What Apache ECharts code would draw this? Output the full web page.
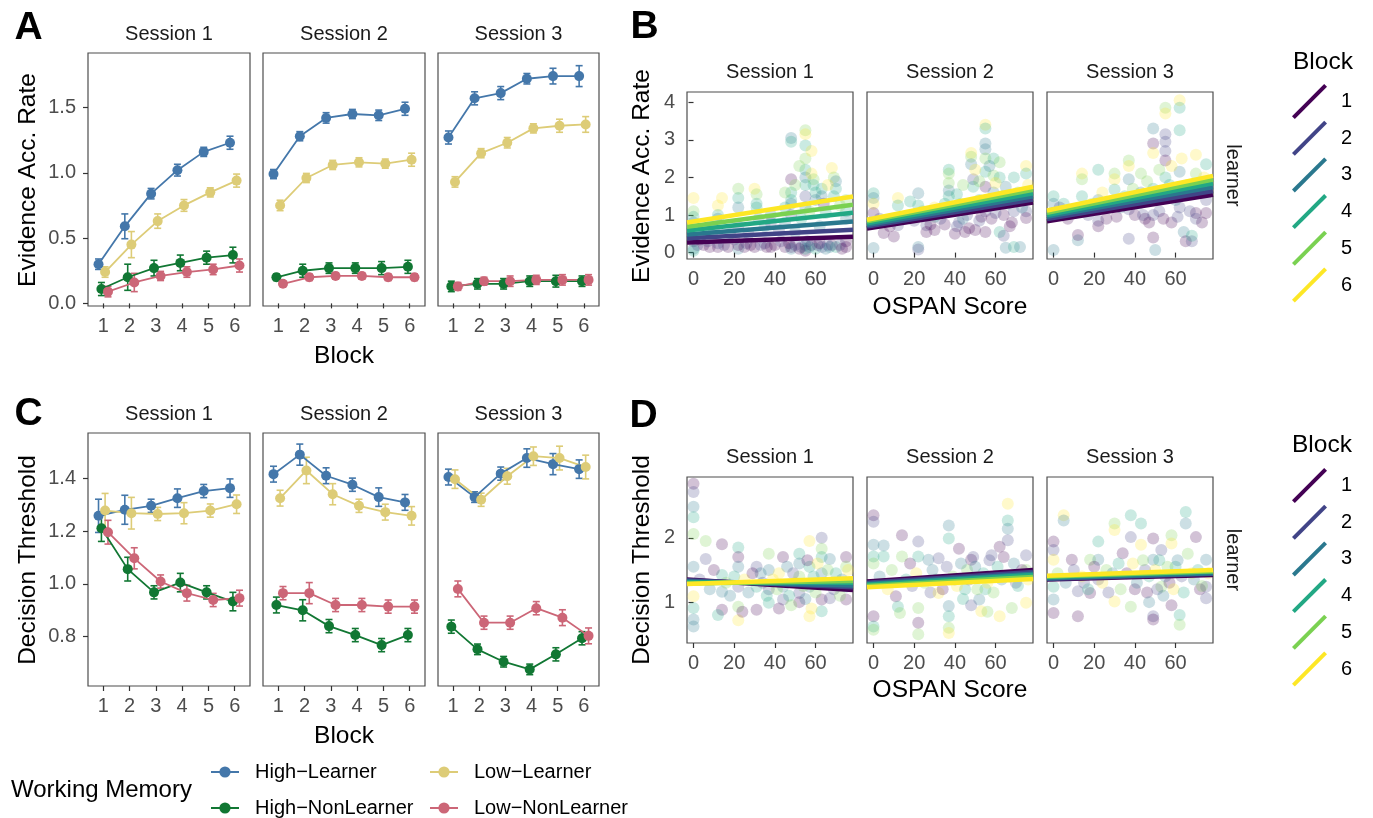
<!DOCTYPE html>
<html>
<head>
<meta charset="utf-8">
<script src="https://cdn.jsdelivr.net/npm/echarts@6/dist/echarts.min.js"></script>
<style>
  html, body { margin: 0; padding: 0; background: #fff; }
  #chart { width: 1373px; height: 818px; }
</style>
</head>
<body>
<div id="chart"></div>
<script>
// block / session labels
var blocks = [1, 2, 3, 4, 5, 6];
var sessions = ['Session 1', 'Session 2', 'Session 3'];
var groups = ['High\u2212Learner', 'High\u2212NonLearner', 'Low\u2212Learner', 'Low\u2212NonLearner'];

// panel A: evidence accumulation rate (mean per block, one row per session)
var rateHL = [[0.30, 0.59, 0.84, 1.02, 1.16, 1.23], [0.99, 1.28, 1.42, 1.45, 1.44, 1.49], [1.27, 1.57, 1.61, 1.72, 1.74, 1.74]];
var rateHN = [[0.11, 0.20, 0.27, 0.31, 0.35, 0.37], [0.20, 0.25, 0.27, 0.27, 0.27, 0.28], [0.13, 0.15, 0.15, 0.17, 0.17, 0.17]];
var rateLL = [[0.24, 0.45, 0.63, 0.75, 0.85, 0.94], [0.75, 0.96, 1.06, 1.08, 1.07, 1.10], [0.93, 1.15, 1.23, 1.34, 1.36, 1.37]];
var rateLN = [[0.09, 0.16, 0.21, 0.24, 0.26, 0.29], [0.15, 0.20, 0.21, 0.21, 0.20, 0.20], [0.13, 0.17, 0.17, 0.18, 0.18, 0.18]];
// panel A: standard errors
var rateErrHL = [[0.04, 0.095, 0.04, 0.045, 0.035, 0.05], [0.035, 0.035, 0.04, 0.035, 0.04, 0.05], [0.05, 0.05, 0.05, 0.04, 0.06, 0.08]];
var rateErrHN = [[0.05, 0.10, 0.06, 0.06, 0.05, 0.06], [0.025, 0.05, 0.04, 0.04, 0.05, 0.05], [0.04, 0.04, 0.04, 0.04, 0.045, 0.04]];
var rateErrLL = [[0.04, 0.10, 0.055, 0.045, 0.035, 0.05], [0.04, 0.035, 0.035, 0.035, 0.035, 0.05], [0.04, 0.035, 0.04, 0.035, 0.05, 0.06]];
var rateErrLN = [[0.04, 0.07, 0.035, 0.04, 0.04, 0.05], [0.02, 0.025, 0.025, 0.025, 0.025, 0.025], [0.03, 0.03, 0.04, 0.035, 0.04, 0.04]];

// panel C: decision threshold
var thrHL = [[1.258, 1.281, 1.296, 1.325, 1.352, 1.363], [1.416, 1.49, 1.41, 1.376, 1.329, 1.309], [1.405, 1.329, 1.418, 1.477, 1.454, 1.435]];
var thrHN = [[1.211, 1.056, 0.968, 1.005, 0.968, 0.933], [0.92, 0.90, 0.84, 0.806, 0.768, 0.806], [0.838, 0.752, 0.705, 0.676, 0.733, 0.794]];
var thrLL = [[1.278, 1.268, 1.265, 1.268, 1.278, 1.302], [1.325, 1.43, 1.34, 1.296, 1.272, 1.258], [1.397, 1.319, 1.408, 1.484, 1.477, 1.443]];
var thrLN = [[1.196, 1.097, 1.009, 0.965, 0.939, 0.946], [0.965, 0.965, 0.92, 0.92, 0.914, 0.914], [0.981, 0.853, 0.853, 0.908, 0.872, 0.803]];
var thrErrHL = [[0.063, 0.055, 0.025, 0.035, 0.025, 0.035], [0.03, 0.04, 0.03, 0.025, 0.035, 0.03], [0.03, 0.02, 0.025, 0.035, 0.04, 0.035]];
var thrErrHN = [[0.05, 0.045, 0.025, 0.035, 0.025, 0.035], [0.03, 0.04, 0.025, 0.025, 0.025, 0.025], [0.025, 0.02, 0.02, 0.02, 0.025, 0.025]];
var thrErrLL = [[0.065, 0.06, 0.025, 0.04, 0.025, 0.035], [0.03, 0.05, 0.04, 0.025, 0.03, 0.035], [0.035, 0.025, 0.03, 0.035, 0.045, 0.045]];
var thrErrLN = [[0.045, 0.04, 0.025, 0.03, 0.025, 0.03], [0.025, 0.04, 0.025, 0.025, 0.025, 0.025], [0.03, 0.025, 0.025, 0.025, 0.03, 0.03]];

// panel B: subject points [ospan, rate, block]
var bPts1 = [[0,1.45,6],[0,1.1,5],[0,0.95,4],[0,0.8,3],[0,0.3,1],[0,0.1,3],[0,0.05,4],[5,0.2,1],[8,0.15,1],
  [12,1.25,6],[14,1.45,6],[12,1.0,4],[12,0.9,3],[12,0.15,1],[12,0.25,2],[10,0.6,2],
  [22,1.7,5],[22,1.45,4],[22,1.2,3],[22,0.7,2],[22,0.1,3],[22,0.2,1],[25,0.15,1],
  [30,1.7,6],[31,1.55,5],[31,1.3,4],[31,1.2,4],[32,0.9,3],[30,0.15,1],[33,0.2,2],
  [38,1.0,3],[38,0.8,2],[38,0.15,1],[40,0.2,1],[42,0.6,2],[45,1.2,4],[45,0.8,3],[45,0.15,1],
  [48,3.05,3],[48,2.95,4],[48,1.95,1],[48,1.6,4],[48,1.4,4],[48,1.3,3],[48,1.0,2],[48,0.15,1],[48,0.1,3],
  [55,3.25,5],[55,3.15,6],[55,2.85,4],[55,2.5,5],[55,2.2,4],[55,2.0,3],[55,1.8,4],[55,1.5,2],[55,1.2,3],[55,0.2,3],[55,0.05,1],[55,0.1,4],[53,0.15,2],
  [58,2.1,6],[59,1.95,5],[59,1.8,4],[60,1.6,4],[60,1.4,3],[58,0.2,1],[60,0.1,4],
  [63,1.7,4],[63,1.5,3],[64,1.3,1],[63,0.15,2],[65,0.1,3],
  [68,2.25,6],[69,2.0,5],[70,1.9,3],[70,1.7,4],[69,1.5,4],[68,0.2,1],[70,0.15,4],
  [75,1.4,5],[75,1.1,4],[75,0.9,3],[75,0.15,1],[75,0.3,1],
  [2,0.2,2],[3,0.35,1],[7,0.3,2],[15,0.2,2],[17,0.15,1],[20,0.35,2],[26,0.25,2],[28,0.2,1],[35,0.25,2],[36,0.15,1],
  [43,0.3,2],[47,0.25,1],[50,0.2,2],[52,0.1,1],[56,0.3,2],[57,0.15,3],[61,0.2,2],[62,0.25,1],[66,0.2,2],[67,0.15,3],
  [72,0.2,2],[73,0.1,1],[50,0.55,3],[53,0.9,4],[57,1.1,5],[62,0.7,3],[65,1.05,4],[72,1.25,5],[35,0.7,3],[27,0.5,2],
  [18,0.5,3],[8,0.7,4],[45,1.6,5],[50,1.8,5],[66,1.8,6],[52,2.3,5],[58,2.7,6]];
var bPts2 = [[0,1.58,4],[0,1.45,3],[0,1.3,6],[0,1.05,1],[0,0.12,3],[5,0.52,1],[10,0.43,1],
  [12,1.45,6],[12,1.25,4],[12,0.73,2],[18,1.36,4],[22,1.58,3],[22,1.25,4],[22,0.15,3],[22,0.08,2],
  [26,0.73,2],[26,0.55,1],[30,1.2,6],[30,0.95,4],[30,0.6,1],[35,0.75,1],
  [37,2.2,4],[37,2.1,5],[37,1.85,5],[37,1.65,3],[37,1.5,4],[41,1.55,4],[41,0.7,2],[42,0.8,2],[44,0.9,3],[45,0.55,1],[47,0.65,1],
  [48,2.65,6],[48,2.55,5],[48,2.35,3],[49,1.95,2],[49,1.75,4],[50,1.2,3],[50,0.6,1],[52,0.85,2],
  [55,3.4,6],[55,3.3,4],[55,2.9,3],[55,2.75,3],[55,2.5,5],[55,2.15,4],[55,1.75,1],[55,1.1,2],[55,0.55,1],
  [59,2.5,4],[59,2.05,5],[59,1.6,3],[58,0.9,1],[62,2.4,5],[62,2.0,4],[62,1.35,2],[62,0.55,4],[64,1.0,1],
  [65,1.75,3],[65,0.13,3],[67,0.7,1],[69,2.0,4],[69,1.1,2],[69,0.15,4],[72,0.15,3],
  [75,2.3,6],[75,2.1,4],[75,1.45,3],[75,1.1,2],[75,0.92,1],
  [3,0.9,2],[8,0.7,1],[15,0.9,3],[20,0.85,2],[24,1.1,5],[28,0.75,1],[33,0.9,2],[35,1.3,4],[39,1.2,3],[43,1.3,5],
  [46,1.0,2],[52,1.4,4],[53,0.95,1],[57,1.25,3],[60,1.05,2],[63,1.5,5],[66,1.3,4],[68,0.8,1],[71,1.6,5],[73,1.2,3],
  [76,1.8,6],[50,2.2,6],[52,1.9,5],[57,2.3,3],[60,1.85,6],[44,1.8,5],[40,0.5,1],[64,0.45,2]];
var bPts3 = [[0,1.5,4],[0,1.3,3],[0,1.05,1],[0,0.07,3],[5,1.3,4],[12,0.33,3],[12,0.47,1],
  [14,2.1,6],[14,1.95,5],[14,1.5,4],[22,2.2,4],[22,1.4,3],[22,0.85,2],[22,0.7,1],[26,0.9,1],
  [30,2.1,5],[30,1.95,6],[30,1.68,4],[33,1.2,3],[37,2.45,5],[37,2.3,6],[37,1.95,3],[37,1.15,2],[37,0.37,2],
  [40,1.0,1],[43,2.1,5],[43,1.6,3],[45,0.9,1],
  [49,3.3,3],[49,2.9,1],[49,2.65,6],[49,1.7,4],[49,1.0,2],[49,0.4,1],[50,0.07,3],[52,1.1,2],
  [55,3.85,5],[55,3.7,6],[55,3.15,2],[55,2.95,2],[55,2.7,2],[55,2.45,1],[55,2.0,4],[55,1.6,3],[58,0.8,1],
  [62,4.05,6],[62,3.85,4],[62,3.25,4],[62,2.15,3],[62,1.2,2],
  [64,0.55,3],[65,0.3,1],[68,0.3,2],[68,0.45,4],[70,2.6,6],[70,2.1,5],[70,1.05,1],[70,0.9,2],
  [75,2.35,4],[75,1.4,2],[75,1.05,1],
  [3,1.2,2],[7,0.9,1],[10,1.1,3],[17,1.0,2],[19,1.3,5],[24,1.6,6],[28,1.2,2],[31,0.95,1],[35,1.5,4],[39,1.7,5],
  [42,1.3,3],[44,1.0,2],[46,1.9,5],[47,0.8,1],[51,1.5,4],[52,2.2,5],[54,0.9,1],[57,1.8,4],[58,2.3,6],[60,1.4,3],
  [61,0.95,2],[63,2.5,6],[66,1.8,5],[67,1.1,2],[72,1.6,4],[74,2.0,6],[76,1.9,5],[73,0.8,1]];

// panel D: subject points [ospan, threshold, block]
var dPts1 = [[0,2.84,1],[0,2.71,2],[0,2.48,3],[0,2.32,4],[0,2.06,5],[0,1.55,3],[0,1.09,6],[0,0.91,4],[0,0.73,3],[0,0.62,3],
  [6,1.95,5],[6,1.67,2],[14,1.9,1],[14,1.42,4],[14,1.16,3],[14,0.88,1],[12,0.8,4],
  [22,1.85,4],[22,1.7,1],[22,1.55,3],[22,1.24,2],[22,0.93,5],[22,0.72,6],[24,0.85,1],
  [31,1.55,2],[31,1.24,4],[31,0.88,1],[33,1.45,3],[37,1.75,5],[37,1.5,3],[37,1.2,2],[37,0.99,4],
  [44,1.7,1],[44,1.24,3],[44,1.04,2],[42,1.45,6],[52,1.75,4],[52,1.6,3],[52,1.4,5],[52,1.14,2],[52,1.0,1],[50,1.3,6],
  [57,1.95,6],[57,1.55,4],[57,1.24,3],[57,0.78,6],[63,2.0,2],[63,1.83,5],[63,1.7,4],[63,1.45,3],[63,1.04,1],[63,0.86,4],
  [67,1.67,3],[67,1.06,2],[75,1.7,1],[75,1.55,5],[75,1.24,4],[75,1.04,1],
  [3,1.35,2],[8,1.2,3],[10,1.5,1],[16,1.3,5],[18,1.1,3],[20,1.4,4],[25,1.35,6],[27,1.15,3],[29,1.45,1],[34,1.3,2],
  [36,1.1,4],[39,1.35,6],[41,1.2,5],[46,1.55,3],[47,1.1,4],[49,1.45,2],[54,1.25,5],[55,1.05,3],[56,1.65,1],[59,1.4,4],
  [60,1.15,5],[61,1.6,6],[65,1.3,3],[66,1.5,5],[69,1.2,2],[70,1.45,4],[72,1.1,5],[73,1.35,3],[76,1.5,6],[48,0.95,5],
  [58,0.9,6],[42,0.9,1]];
var dPts2 = [[0,2.35,1],[0,2.25,2],[0,1.89,3],[0,1.71,4],[0,1.6,5],[0,0.78,1],[0,0.62,4],[0,0.57,5],
  [5,1.88,3],[5,1.71,4],[11,1.09,1],[12,0.93,4],[13,0.83,5],[14,2.04,1],[14,1.71,5],[18,1.6,1],
  [22,1.94,2],[22,1.71,4],[22,0.91,5],[22,0.68,1],[22,0.5,5],[27,1.66,3],[28,1.15,2],[32,1.68,2],[32,1.14,6],
  [37,2.19,3],[37,1.99,4],[37,0.94,3],[37,0.78,4],[37,0.6,5],[37,0.52,6],[40,1.35,3],[42,1.83,1],[45,1.2,4],[46,1.5,5],
  [48,1.66,1],[49,1.7,2],[52,1.04,3],[53,0.86,6],[55,1.2,4],[58,1.73,2],[60,1.4,1],[62,1.86,1],[62,0.78,6],
  [66,2.53,6],[66,2.27,4],[66,2.14,3],[66,1.96,2],[68,0.91,5],[70,1.3,2],[75,1.73,2],[75,1.5,5],[75,0.99,6],
  [3,1.4,3],[7,1.2,6],[9,1.5,5],[16,1.35,4],[19,1.25,2],[21,1.45,6],[25,1.3,5],[29,1.5,3],[31,1.35,4],[34,1.2,1],
  [36,1.55,2],[39,1.4,5],[41,1.25,6],[43,1.6,3],[47,1.35,2],[50,1.55,3],[51,1.2,5],[54,1.45,4],[56,1.3,6],[57,1.65,2],
  [59,1.15,5],[61,1.55,4],[63,1.35,3],[64,1.7,1],[67,1.4,5],[69,1.6,3],[71,1.25,4],[73,1.5,1],[76,1.35,6],[44,1.05,4],
  [48,0.95,2],[56,0.85,5]];
var dPts3 = [[0,1.94,1],[0,1.81,2],[0,1.66,6],[0,1.24,4],[0,1.04,3],[0,0.83,1],[5,2.35,6],[5,2.27,3],
  [9,1.66,1],[12,1.17,2],[12,0.78,1],[15,1.3,2],[18,1.66,5],[18,1.14,1],[22,1.94,4],[22,1.66,3],[22,1.35,2],[26,1.5,5],
  [30,2.22,5],[30,2.12,6],[30,1.01,6],[34,1.76,1],[38,2.35,4],[38,2.01,2],[38,0.93,5],[40,1.2,1],
  [43,2.22,4],[43,1.89,6],[45,1.5,2],[49,1.99,1],[49,1.66,3],[49,0.78,2],[49,0.73,1],[53,1.81,2],[53,1.24,5],[55,1.4,3],
  [58,2.04,5],[58,1.91,6],[60,1.55,4],[62,0.8,4],[62,0.65,5],[65,2.4,4],[65,2.22,3],[68,1.45,6],[70,2.01,1],[72,1.2,1],
  [75,1.66,3],[75,1.24,2],[75,1.06,2],
  [2,1.45,5],[6,1.3,3],[10,1.5,2],[14,1.4,6],[17,1.2,4],[20,1.55,1],[24,1.3,6],[27,1.15,2],[29,1.45,3],[32,1.6,4],
  [33,1.2,5],[36,1.45,1],[39,1.6,6],[41,1.3,3],[44,1.65,5],[46,1.15,1],[47,1.4,4],[50,1.5,6],[51,1.2,2],[52,1.65,4],
  [54,1.1,3],[56,1.55,5],[57,1.3,1],[59,1.2,6],[61,1.65,3],[63,1.4,2],[64,1.15,4],[66,1.75,5],[69,1.35,3],[71,1.5,4],
  [73,1.25,5],[76,1.45,6],[47,1.0,3],[58,0.95,1]];

// fitted lines per block (value at left and right edge of the OSPAN range)
var bFitLeft = [[0.27, 0.38, 0.48, 0.59, 0.69, 0.80], [0.64, 0.69, 0.73, 0.78, 0.83, 0.875], [0.83, 0.89, 0.95, 1.00, 1.06, 1.12]];
var bFitRight = [[0.42, 0.61, 0.83, 1.06, 1.27, 1.49], [1.33, 1.41, 1.50, 1.58, 1.67, 1.75], [1.54, 1.64, 1.74, 1.84, 1.94, 2.04]];
var dFitLeft = [[1.35, 1.34, 1.32, 1.31, 1.29, 1.28], [1.32, 1.30, 1.28, 1.27, 1.25, 1.23], [1.35, 1.36, 1.37, 1.39, 1.40, 1.41]];
var dFitRight = [[1.19, 1.23, 1.26, 1.30, 1.33, 1.37], [1.50, 1.47, 1.44, 1.42, 1.39, 1.36], [1.42, 1.44, 1.45, 1.47, 1.48, 1.50]];

// tick labels
var blockTicks = [1, 2, 3, 4, 5, 6];
var ospanTicks = [0, 20, 40, 60];
var rateTicks = [0, 0.5, 1.0, 1.5];
var thrTicks = [0.8, 1.0, 1.2, 1.4];
var bTicks = [0, 1, 2, 3, 4];
var dTicks = [1, 2];

var FONT = '"Liberation Sans", Arial, sans-serif';
var viridis = ['#440154', '#414487', '#2A788E', '#22A884', '#7AD151', '#FDE725'];
var wmColors = ['#4477AA', '#117733', '#DDCC77', '#CC6677'];
var dodge = [-0.18, -0.07, 0.07, 0.18];
var ospanMin = -3.2, ospanMax = 78.4;

var chart = echarts.init(document.getElementById('chart'));

var grids = [], xAxes = [], yAxes = [], series = [];

function addPanel(left, top, width, height, xCfg, yCfg, firstCol) {
    grids.push({
        left: left, top: top, width: width, height: height,
        show: true, borderColor: '#4d4d4d', borderWidth: 1.2, backgroundColor: 'transparent'
    });
    var gi = grids.length - 1;
    xAxes.push({
        type: 'value', gridIndex: gi, min: xCfg.min, max: xCfg.max,
        axisLine: { show: false }, splitLine: { show: false },
        axisTick: { show: true, length: 5, customValues: xCfg.ticks, lineStyle: { color: '#333', width: 1.2 } },
        axisLabel: { customValues: xCfg.ticks, color: '#4d4d4d', fontSize: 20, fontFamily: FONT, margin: 10 }
    });
    yAxes.push({
        type: 'value', gridIndex: gi, min: yCfg.min, max: yCfg.max,
        axisLine: { show: false }, splitLine: { show: false },
        axisTick: { show: firstCol, length: 5, customValues: yCfg.ticks, lineStyle: { color: '#333', width: 1.2 } },
        axisLabel: { show: firstCol, customValues: yCfg.ticks, color: '#4d4d4d', fontSize: 20, fontFamily: FONT, margin: 12,
            formatter: yCfg.fmt }
    });
    return gi;
}

function errRender(color) {
    return function (params, api) {
        var x = api.value(0), y = api.value(1), e = api.value(2);
        var hi = api.coord([x, y + e]), lo = api.coord([x, y - e]);
        var st = { stroke: color, lineWidth: 1.6 };
        return {
            type: 'group', children: [
                { type: 'line', shape: { x1: hi[0], y1: hi[1], x2: lo[0], y2: lo[1] }, style: st },
                { type: 'line', shape: { x1: hi[0] - 3.5, y1: hi[1], x2: hi[0] + 3.5, y2: hi[1] }, style: st },
                { type: 'line', shape: { x1: lo[0] - 3.5, y1: lo[1], x2: lo[0] + 3.5, y2: lo[1] }, style: st }
            ]
        };
    };
}

var colLeft = [88, 263, 438];
var colW = [162, 162, 161];
var scLeft = [687, 867, 1047];

// panels A and C
var lineRows = [
    { top: 53, y: { min: -0.02, max: 1.917, ticks: rateTicks, fmt: function (v) { return v.toFixed(1); } },
      vals: [rateHL, rateHN, rateLL, rateLN], errs: [rateErrHL, rateErrHN, rateErrLL, rateErrLN] },
    { top: 433, y: { min: 0.613, max: 1.572, ticks: thrTicks, fmt: function (v) { return v.toFixed(1); } },
      vals: [thrHL, thrHN, thrLL, thrLN], errs: [thrErrHL, thrErrHN, thrErrLL, thrErrLN] }
];
lineRows.forEach(function (row) {
    for (var s = 0; s < 3; s++) {
        var gi = addPanel(colLeft[s], row.top, colW[s], 253, { min: 0.42, max: 6.58, ticks: blockTicks }, row.y, s === 0);
        for (var g = 0; g < 4; g++) {
            var v = row.vals[g][s], e = row.errs[g][s];
            series.push({
                type: 'custom', name: 'err', xAxisIndex: gi, yAxisIndex: gi, z: 3,
                renderItem: errRender(wmColors[g]),
                encode: { x: 0, y: 1 },
                data: blocks.map(function (b, j) { return [b + dodge[g], v[j], e[j]]; })
            });
            series.push({
                type: 'line', name: groups[g], xAxisIndex: gi, yAxisIndex: gi, z: 4,
                color: wmColors[g], symbol: 'circle', symbolSize: 10, showSymbol: true,
                lineStyle: { width: 1.8, color: wmColors[g] },
                itemStyle: { color: wmColors[g] },
                data: blocks.map(function (b, j) { return [b + dodge[g], v[j]]; })
            });
        }
    }
});

// panels B and D
var scRows = [
    { top: 92, h: 167, y: { min: -0.17, max: 4.27, ticks: bTicks, fmt: function (v) { return String(v); } },
      pts: [bPts1, bPts2, bPts3], fl: bFitLeft, fr: bFitRight },
    { top: 477, h: 166, y: { min: 0.365, max: 2.944, ticks: dTicks, fmt: function (v) { return String(v); } },
      pts: [dPts1, dPts2, dPts3], fl: dFitLeft, fr: dFitRight }
];
scRows.forEach(function (row) {
    for (var s = 0; s < 3; s++) {
        var gi = addPanel(scLeft[s], row.top, 166, row.h, { min: ospanMin, max: ospanMax, ticks: ospanTicks }, row.y, s === 0);
        series.push({
            type: 'scatter', name: 'pts', xAxisIndex: gi, yAxisIndex: gi, z: 2,
            symbolSize: 12,
            itemStyle: { opacity: 0.24, color: function (p) { return viridis[p.data[2] - 1]; } },
            data: row.pts[s]
        });
        for (var k = 0; k < 6; k++) {
            series.push({
                type: 'line', name: String(k + 1), xAxisIndex: gi, yAxisIndex: gi, z: 3,
                color: viridis[k], symbol: 'none',
                lineStyle: { width: 4.5, color: viridis[k] },
                itemStyle: { color: viridis[k] },
                data: [[ospanMin, row.fl[s][k]], [ospanMax, row.fr[s][k]]]
            });
        }
    }
});

var graphics = [];
function txt(text, x, y, size, opts) {
    opts = opts || {};
    graphics.push({
        type: 'text', x: x, y: y, rotation: opts.rot || 0, silent: true,
        style: {
            text: text, fill: opts.color || '#000',
            font: (opts.bold ? 'bold ' : '') + size + 'px ' + FONT,
            textAlign: opts.align || 'center', textVerticalAlign: 'middle'
        }
    });
}

// panel letters
txt('A', 28.5, 28, 39, { bold: true });
txt('B', 644.5, 27, 39, { bold: true });
txt('C', 28.5, 414, 39, { bold: true });
txt('D', 643.5, 416, 39, { bold: true });

// facet strips
for (var s = 0; s < 3; s++) {
    var cx = colLeft[s] + colW[s] / 2;
    txt(sessions[s], cx, 34, 20, { color: '#1a1a1a' });
    txt(sessions[s], cx, 414, 20, { color: '#1a1a1a' });
    txt(sessions[s], scLeft[s] + 83, 72, 20, { color: '#1a1a1a' });
    txt(sessions[s], scLeft[s] + 83, 457, 20, { color: '#1a1a1a' });
}
txt('learner', 1232.5, 175.5, 20, { color: '#1a1a1a', rot: -Math.PI / 2 });
txt('learner', 1232.5, 560, 20, { color: '#1a1a1a', rot: -Math.PI / 2 });

// axis titles
txt('Evidence Acc. Rate', 28, 180, 24.5, { rot: Math.PI / 2 });
txt('Decision Threshold', 28, 560, 24.5, { rot: Math.PI / 2 });
txt('Evidence Acc. Rate', 642, 176, 24.5, { rot: Math.PI / 2 });
txt('Decision Threshold', 642, 560, 24.5, { rot: Math.PI / 2 });
txt('Block', 344, 356, 24.5);
txt('Block', 344, 736, 24.5);
txt('OSPAN Score', 950, 307, 24.5);
txt('OSPAN Score', 950, 690, 24.5);

// legend titles
txt('Block', 1293, 62, 24.5, { align: 'left' });
txt('Block', 1292, 445, 24.5, { align: 'left' });
txt('Working Memory', 11, 790, 24, { align: 'left' });

var lineIcon = 'path://M0,92 L92,0 L100,8 L8,100 Z';
function blockLegend(top) {
    return {
        data: ['1', '2', '3', '4', '5', '6'], orient: 'vertical', left: 1292, top: top, padding: 0,
        icon: lineIcon, itemWidth: 37, itemHeight: 35, itemGap: 1.7, selectedMode: false,
        textStyle: { fontSize: 20, fontFamily: FONT, color: '#000', padding: [0, 0, 0, 8] }
    };
}
function wmLegend(name, left, top) {
    return {
        data: [name], orient: 'horizontal', left: left, top: top, padding: 0,
        itemWidth: 28, itemHeight: 14, selectedMode: false,
        textStyle: { fontSize: 20, fontFamily: FONT, color: '#000', lineHeight: 16, padding: [0, 0, 0, 11] }
    };
}

chart.setOption({
    animation: false,
    backgroundColor: '#fff',
    grid: grids,
    xAxis: xAxes,
    yAxis: yAxes,
    legend: [
        wmLegend(groups[0], 210, 762),
        wmLegend(groups[1], 210, 798),
        wmLegend(groups[2], 429, 762),
        wmLegend(groups[3], 429, 798),
        blockLegend(84),
        blockLegend(468)
    ],
    graphic: graphics,
    series: series
});

window.addEventListener('resize', function () {
    chart.resize();
});
</script>
</body>
</html>
